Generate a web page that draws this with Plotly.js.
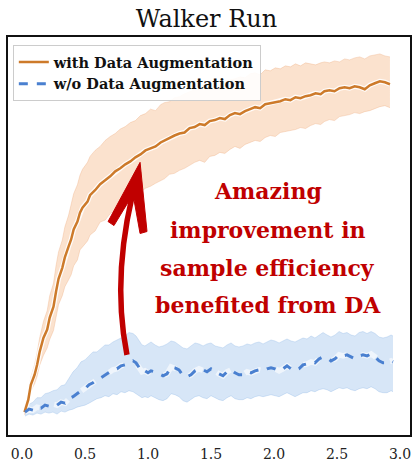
<!DOCTYPE html>
<html>
<head>
<meta charset="utf-8">
<script src="https://cdn.plot.ly/plotly-3.0.1.min.js"></script>
<style>html,body{margin:0;padding:0;background:#fff;}#chart{width:413px;height:465px;}</style>
</head>
<body>
<div id="chart"></div>
<script>
// ---- data ----
const withX = [0.02,0.05,0.07,0.10,0.12,0.14,0.17,0.20,0.22,0.25,0.27,0.29,0.32,0.34,0.37,0.39,0.41,0.44,0.46,0.48,0.52,0.54,0.58,0.62,0.66,0.70,0.74,0.78,0.82,0.86,0.90,0.94,0.98,1.02,1.06,1.10,1.13,1.17,1.21,1.25,1.29,1.33,1.37,1.41,1.45,1.49,1.53,1.57,1.61,1.65,1.69,1.73,1.77,1.81,1.85,1.89,1.93,1.97,2.01,2.05,2.09,2.13,2.17,2.21,2.25,2.29,2.33,2.37,2.40,2.44,2.48,2.52,2.56,2.60,2.64,2.68,2.72,2.76,2.80,2.84,2.88,2.92];
const withMean = [46,71,101,121,141,167,195,212,236,258,288,314,336,357,379,393,413,429,447,457,469,482,492,504,512,520,530,536,544,550,558,564,572,576,580,588,592,596,602,606,608,617,619,625,623,631,633,637,635,643,647,645,651,655,659,657,665,667,669,671,675,673,679,677,681,683,687,685,691,693,691,697,699,697,701,699,695,703,707,711,709,705];
const withUpper = [52,82,116,141,166,195,228,250,280,305,340,368,392,418,442,462,485,503,522,534,548,560,572,580,592,600,606,615,620,628,632,642,646,655,652,664,668,670,678,680,686,690,694,696,700,702,708,706,712,714,716,720,718,726,728,724,734,732,738,736,742,740,746,742,748,746,744,748,750,748,752,750,756,754,758,760,756,762,764,766,762,760];
const withLower = [40,62,88,103,118,140,160,175,192,210,236,262,280,298,312,322,340,352,372,378,390,402,410,428,432,445,452,458,470,472,482,488,496,500,506,512,515,524,526,532,536,542,548,552,548,560,562,568,566,574,580,576,584,588,592,590,598,602,600,608,610,612,614,618,616,622,626,624,630,634,632,640,642,644,648,646,650,652,656,660,662,658];

const woX = [0.024,0.056,0.087,0.119,0.151,0.183,0.214,0.246,0.278,0.310,0.341,0.373,0.405,0.437,0.468,0.500,0.532,0.563,0.595,0.627,0.659,0.690,0.722,0.754,0.786,0.817,0.849,0.881,
  0.905,0.929,0.952,0.976,1.000,1.024,
  1.056,1.087,1.119,1.151,1.183,1.214,1.246,1.278,1.310,1.341,
  1.373,1.405,1.437,1.468,1.500,1.532,1.563,1.595,1.627,1.659,
  1.690,1.722,1.754,1.786,1.817,1.849,1.881,1.913,1.944,1.976,
  2.008,2.040,2.071,2.103,2.135,2.167,2.198,2.230,2.262,2.294,
  2.325,2.357,2.389,2.421,2.452,2.484,2.516,2.548,2.579,2.611,
  2.643,2.675,2.706,2.738,2.770,2.802,2.833,2.865,2.897,2.929,
  2.944];
const woMean = [46,52,50,56,54,60,58,62,60,66,64,73,77,83,89,93,101,105,111,115,121,125,131,133,139,141,145,149,
  145,137,127,129,125,129,
  127,123,119,123,137,135,131,119,117,121,
  129,133,131,127,133,127,123,119,127,131,
  125,121,121,127,125,129,131,129,133,135,
  133,129,133,139,133,129,133,141,143,147,
  145,153,157,155,149,153,161,159,161,157,
  153,159,161,159,163,157,149,145,145,149,
  147];
const woUpper = [54,62,66,75,75,83,85,89,91,99,101,115,127,135,147,151,159,167,167,175,181,181,187,191,195,199,206,204,
  199,191,181,179,183,187,
  181,177,179,183,189,187,181,175,173,179,
  185,183,179,183,185,179,177,175,181,185,
  179,177,179,183,181,185,187,183,187,191,
  189,185,189,193,189,187,191,195,193,199,
  195,201,206,201,197,201,208,204,206,201,
  199,206,208,204,208,204,197,195,197,201,
  199];
const woLower = [38,42,40,44,42,46,44,46,42,48,46,50,52,56,58,60,64,68,73,75,79,77,83,81,87,85,89,87,
  83,79,75,77,75,79,
  75,71,69,73,83,81,77,69,66,71,
  77,79,75,73,79,75,71,69,75,79,
  73,71,71,75,73,77,79,77,79,81,
  79,77,81,85,81,77,81,85,85,89,
  87,91,93,91,87,91,95,93,95,91,
  89,93,95,93,97,93,87,85,85,89,
  87];

const xTicks = [0.0,0.5,1.0,1.5,2.0,2.5,3.0];
const xTickText = ['0.0','0.5','1.0','1.5','2.0','2.5','3.0'];
const seriesNames = ['with Data Augmentation','w/o Data Augmentation'];
const chartTitle = 'Walker Run';
const noteLines = ['Amazing','improvement in','sample efficiency','benefited from DA'];
const noteY = [490,413,336,262];
const noteX = 1.95;
// annotation arrow (data coords)
const arrowShaft = {x0:0.833,y0:161,cx:0.70,cy:330,x1:0.925,y1:530};
const arrowHeadX = [0.937,0.683,0.730,0.881,0.937,0.992];
const arrowHeadY = [548,429,421,484,405,409];

// ---- styles ----
const ORANGE = '#cd7a2a', BLUE = '#4a80d0', RED = '#c00000';
const FONT = '"DejaVu Serif", "Liberation Serif", serif';

const traces = [
  {x: withX, y: withLower, mode:'lines', line:{width:0.6, color:'rgba(235,160,110,0.5)'}, showlegend:false, hoverinfo:'skip'},
  {x: withX, y: withUpper, mode:'lines', fill:'tonexty', fillcolor:'rgba(240,150,80,0.28)', line:{width:0.6, color:'rgba(235,160,110,0.5)'}, showlegend:false, hoverinfo:'skip'},
  {x: woX, y: woLower, mode:'lines', line:{width:0.6, color:'rgba(120,170,225,0.45)'}, showlegend:false, hoverinfo:'skip'},
  {x: woX, y: woUpper, mode:'lines', fill:'tonexty', fillcolor:'rgba(110,165,225,0.28)', line:{width:0.6, color:'rgba(120,170,225,0.45)'}, showlegend:false, hoverinfo:'skip'},
  {x: withX, y: withMean, mode:'lines', line:{width:5, color:'rgba(255,255,255,0.9)'}, showlegend:false, hoverinfo:'skip'},
  {x: woX, y: woMean, mode:'lines', line:{width:5.5, color:'rgba(255,255,255,0.6)', dash:'dash'}, showlegend:false, hoverinfo:'skip'},
  {x: withX, y: withMean, mode:'lines', name: seriesNames[0], line:{width:2.5, color:ORANGE}},
  {x: woX, y: woMean, mode:'lines', name: seriesNames[1], line:{width:3, color:BLUE, dash:'dash'}}
];

const shapes = [
  {type:'path', xref:'x', yref:'y',
   path:`M ${arrowShaft.x0},${arrowShaft.y0} Q ${arrowShaft.cx},${arrowShaft.cy} ${arrowShaft.x1},${arrowShaft.y1}`,
   line:{color:RED, width:5.5}},
  {type:'path', xref:'x', yref:'y',
   path: 'M ' + arrowHeadX.map((v,i)=>v+','+arrowHeadY[i]).join(' L ') + ' Z',
   fillcolor:RED, line:{color:RED, width:1}}
];

const annotations = noteLines.map((t,i)=>({
  x: noteX, y: noteY[i], xref:'x', yref:'y', text:'<b>'+t+'</b>', showarrow:false,
  font:{family:FONT, size:22, color:RED}, xanchor:'center', yanchor:'middle'
}));

const layout = {
  width:413, height:465,
  margin:{l:8, r:3, t:37, b:30},
  paper_bgcolor:'#fff', plot_bgcolor:'#fff',
  title:{text:chartTitle, font:{family:FONT, size:24, color:'#111'}, x:0.5, xanchor:'center', y:0.978, yanchor:'top'},
  xaxis:{range:[-0.111,3.079], tickvals:xTicks, ticktext:xTickText, showgrid:false, zeroline:false,
         showline:true, mirror:true, linecolor:'#111', linewidth:2, ticks:'', ticklen:0, ticklabelstandoff:5,
         tickfont:{family:FONT, size:14, color:'#222'}, fixedrange:true},
  yaxis:{range:[0,800], showticklabels:false, showgrid:false, zeroline:false,
         showline:true, mirror:true, linecolor:'#111', linewidth:2, ticks:'', fixedrange:true},
  legend:{x:0.012, y:0.98, xanchor:'left', yanchor:'top', bgcolor:'rgba(255,255,255,0.9)',
          bordercolor:'#ccc', borderwidth:1, font:{family:FONT, size:14.5, color:'#111', weight:'bold'},
          itemwidth:30, tracegroupgap:0, traceorder:'normal'},
  shapes: shapes,
  annotations: annotations,
  showlegend:true
};

Plotly.newPlot('chart', traces, layout, {displayModeBar:false, staticPlot:true});
</script>
</body>
</html>
